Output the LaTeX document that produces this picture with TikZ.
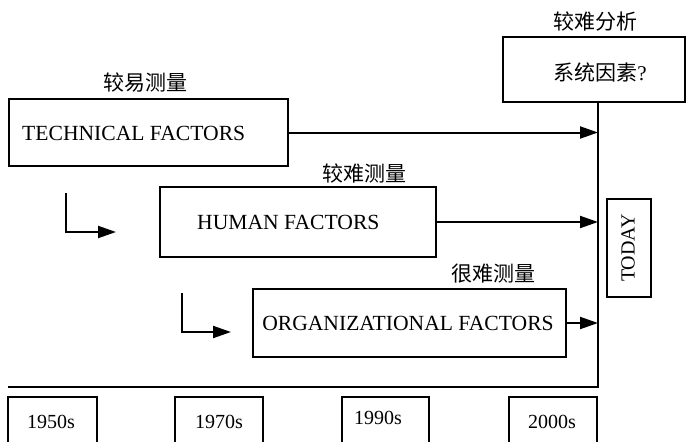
\documentclass[tikz,border=0pt]{standalone}
\usepackage{fontspec}
\setmainfont{Liberation Serif}
\newfontfamily\cjk{Noto Sans CJK SC}
\usetikzlibrary{arrows.meta}
\tikzset{
  x=1pt, y=-1pt,
  boxed/.style={draw, line width=2pt, rectangle, inner sep=0pt},
  lat/.style={font=\fontsize{21.6}{24}\selectfont, inner sep=0pt},
  yr/.style={font=\fontsize{20}{23}\selectfont, inner sep=0pt},
  zh/.style={font=\cjk\fontsize{21}{24}\selectfont, inner sep=0pt},
  ln/.style={line width=2pt},
  arr/.style={line width=2pt, -{Triangle[length=18pt,width=12pt]}}
}
\begin{document}
\begin{tikzpicture}
\clip (0,0) rectangle (686,442);
\fill[white] (0,0) rectangle (686,442);

% main boxes
\node[boxed, minimum width=279pt, minimum height=67pt] (tech) at (148.5,132.5) {};
\node[lat, anchor=west] (techT) at (22,133) {TECHNICAL FACTORS};
\node[zh] (techL) at (145,83) {较易测量};

\node[boxed, minimum width=276pt, minimum height=70pt] (human) at (298,222) {};
\node[lat, anchor=west] (humanT) at (197,222) {HUMAN FACTORS};
\node[zh] (humanL) at (364,173) {较难测量};

\node[boxed, minimum width=313pt, minimum height=68pt] (org) at (409.5,323) {};
\node[lat] (orgT) at (408,323) {ORGANIZATIONAL FACTORS};
\node[zh] (orgL) at (493,274) {很难测量};

\node[boxed, minimum width=182pt, minimum height=65pt] (sys) at (594,69.5) {};
\node[zh] (sysT) at (600,72) {系统因素\fontspec{Liberation Serif}?};
\node[zh] (sysL) at (595,21) {较难分析};

\node[boxed, minimum width=44pt, minimum height=98pt] (today) at (629,248) {};
\node[yr, rotate=90] (todayT) at (628,248) {TODAY};

% spine and baseline
\coordinate (spineTop) at (598,102);
\coordinate (spineBot) at (598,387);
\coordinate (baseL) at (8,387);
\draw[ln] (spineTop) -- (spineBot) -- (baseL);

% arrows to today
\draw[arr] (tech.east) -- (tech.east -| spineTop);
\draw[arr] (human.east) -- (human.east -| spineTop);
\draw[arr] (org.east) -- (org.east -| spineTop);

% bent arrows
\coordinate (b1s) at (66,193);
\coordinate (b1e) at (116,232);
\draw[arr] (b1s) |- (b1e);
\coordinate (b2s) at (182,293);
\coordinate (b2e) at (231,332);
\draw[arr] (b2s) |- (b2e);

% year boxes
\node[boxed, minimum width=89pt, minimum height=63pt] (y1) at (52.5,428.5) {};
\node[yr] (y1T) at (51,422) {1950s};
\node[boxed, minimum width=88pt, minimum height=63pt] (y2) at (219,428.5) {};
\node[yr] (y2T) at (219,422) {1970s};
\node[boxed, minimum width=87pt, minimum height=63pt] (y3) at (385.5,428.5) {};
\node[yr] (y3T) at (378,418) {1990s};
\node[boxed, minimum width=88pt, minimum height=63pt] (y4) at (553,428.5) {};
\node[yr] (y4T) at (552,422) {2000s};
\end{tikzpicture}
\end{document}
